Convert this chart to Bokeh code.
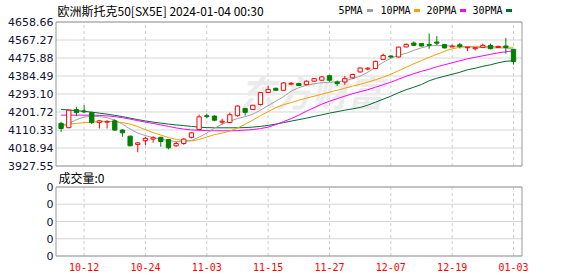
from bokeh.plotting import figure
from bokeh.models import ColumnDataSource, Range1d
from bokeh.embed import file_html
from bokeh.resources import INLINE
from bokeh.core.properties import value

title_text = "欧洲斯托克50[SX5E] 2024-01-04 00:30"
volume_title = "成交量"
watermark = "东方财富"

dates = [
    "2023-10-09", "2023-10-10", "2023-10-11", "2023-10-12", "2023-10-13", "2023-10-16", "2023-10-17",
    "2023-10-18", "2023-10-19", "2023-10-20", "2023-10-23", "2023-10-24", "2023-10-25", "2023-10-26",
    "2023-10-27", "2023-10-30", "2023-10-31", "2023-11-01", "2023-11-02", "2023-11-03", "2023-11-06",
    "2023-11-07", "2023-11-08", "2023-11-09", "2023-11-10", "2023-11-13", "2023-11-14", "2023-11-15",
    "2023-11-16", "2023-11-17", "2023-11-20", "2023-11-21", "2023-11-22", "2023-11-23", "2023-11-24",
    "2023-11-27", "2023-11-28", "2023-11-29", "2023-11-30", "2023-12-01", "2023-12-04", "2023-12-05",
    "2023-12-06", "2023-12-07", "2023-12-08", "2023-12-11", "2023-12-12", "2023-12-13", "2023-12-14",
    "2023-12-15", "2023-12-18", "2023-12-19", "2023-12-20", "2023-12-21", "2023-12-22", "2023-12-27",
    "2023-12-28", "2023-12-29", "2024-01-02", "2024-01-03",
]

open_ = [4144, 4122, 4214, 4207, 4199, 4149, 4150, 4157, 4110, 4079,
         4037, 4056, 4064, 4073, 4062, 4030, 4042, 4073, 4113, 4183,
         4181, 4150, 4148, 4183, 4220, 4214, 4240, 4301, 4322, 4312,
         4343, 4346, 4341, 4358, 4363, 4386, 4354, 4354, 4375, 4405,
         4420, 4422, 4469, 4486, 4481, 4532, 4552, 4549, 4545, 4557,
         4544, 4532, 4543, 4528, 4523, 4530, 4540, 4529, 4537, 4520]
high = [4152, 4213, 4228, 4236, 4203, 4160, 4160, 4164, 4115, 4081,
        4050, 4076, 4079, 4076, 4065, 4050, 4070, 4100, 4188, 4194,
        4185, 4168, 4199, 4236, 4222, 4238, 4303, 4334, 4326, 4354,
        4354, 4350, 4362, 4374, 4382, 4390, 4362, 4385, 4396, 4428,
        4430, 4462, 4498, 4489, 4533, 4550, 4560, 4552, 4600, 4587,
        4546, 4544, 4552, 4532, 4531, 4549, 4549, 4538, 4577, 4520]
low = [4101, 4120, 4181, 4196, 4140, 4118, 4118, 4106, 4076, 4028,
       3997, 4034, 4046, 4025, 4012, 4025, 4035, 4068, 4110, 4169,
       4155, 4139, 4145, 4178, 4183, 4212, 4235, 4299, 4308, 4310,
       4337, 4334, 4337, 4356, 4360, 4355, 4334, 4340, 4372, 4402,
       4413, 4420, 4466, 4475, 4478, 4530, 4537, 4534, 4523, 4540,
       4525, 4531, 4524, 4511, 4514, 4528, 4520, 4527, 4498, 4443]
close = [4118, 4211, 4199, 4202, 4149, 4157, 4153, 4110, 4096, 4030,
         4045, 4068, 4071, 4052, 4020, 4042, 4064, 4096, 4177, 4178,
         4160, 4155, 4188, 4232, 4200, 4236, 4300, 4316, 4312, 4349,
         4347, 4336, 4358, 4371, 4380, 4363, 4346, 4371, 4392, 4425,
         4424, 4459, 4489, 4481, 4531, 4545, 4540, 4537, 4540, 4551,
         4527, 4536, 4535, 4531, 4528, 4540, 4523, 4535, 4529, 4458]
volume = [0] * 60

ma5 = [4125.0, 4142.7, 4162.9, 4175.6, 4180.7, 4178.2, 4173.1, 4160.4, 4140.2, 4114.9,
       4094.6, 4081.9, 4071.8, 4064.2, 4056.6, 4051.6, 4051.6, 4056.6, 4074.4, 4094.6,
       4119.9, 4140.2, 4155.4, 4168.0, 4178.2, 4190.8, 4211.1, 4233.9, 4256.6, 4279.4,
       4307.3, 4325.0, 4337.6, 4345.2, 4350.3, 4352.8, 4355.4, 4360.4, 4370.6, 4383.2,
       4403.5, 4428.8, 4454.1, 4474.3, 4489.5, 4499.7, 4514.9, 4527.5, 4537.6, 4540.2,
       4538.6, 4536.6, 4535.1, 4532.6, 4530.0, 4528.5, 4527.5, 4527.5, 4526.5, 4519.9]
ma10 = [4135.1, 4140.2, 4143.7, 4147.8, 4150.3, 4152.8, 4154.4, 4152.8, 4147.8, 4140.2,
        4127.5, 4112.3, 4097.2, 4084.5, 4071.8, 4062.7, 4056.6, 4055.1, 4061.7, 4074.4,
        4087.0, 4094.6, 4104.8, 4119.9, 4140.2, 4160.4, 4183.2, 4203.5, 4223.7, 4238.9,
        4249.0, 4261.7, 4271.8, 4282.0, 4292.1, 4302.2, 4312.3, 4322.5, 4332.6, 4342.7,
        4352.8, 4365.5, 4378.1, 4393.3, 4411.1, 4428.8, 4446.5, 4462.7, 4479.4, 4494.6,
        4509.8, 4522.9, 4530.0, 4533.6, 4535.1, 4535.1, 4534.1, 4532.6, 4531.6, 4530.0]
ma20 = [4185.8, 4185.8, 4185.8, 4185.8, 4185.8, 4184.3, 4181.8, 4178.2, 4173.1, 4165.5,
        4157.9, 4150.3, 4143.7, 4136.1, 4128.5, 4120.9, 4114.9, 4110.8, 4108.8, 4107.3,
        4106.3, 4106.3, 4106.3, 4107.3, 4109.8, 4112.3, 4117.4, 4125.0, 4137.7, 4152.9,
        4168.0, 4185.8, 4206.0, 4223.7, 4241.4, 4256.6, 4269.3, 4282.0, 4294.6, 4304.7,
        4314.9, 4327.5, 4340.2, 4352.8, 4368.0, 4383.2, 4395.9, 4408.5, 4418.7, 4431.3,
        4441.4, 4451.6, 4461.7, 4471.8, 4479.4, 4487.0, 4494.6, 4502.2, 4507.3, 4512.3]
ma30 = [4214.6, 4212.1, 4208.5, 4205.0, 4200.9, 4195.9, 4190.8, 4184.7, 4178.2, 4170.6,
        4163.0, 4156.4, 4150.3, 4145.3, 4140.2, 4136.1, 4132.6, 4128.5, 4125.0, 4122.5,
        4121.5, 4121.5, 4121.5, 4121.5, 4122.5, 4125.0, 4128.5, 4133.6, 4140.2, 4147.8,
        4155.4, 4163.0, 4170.6, 4179.2, 4187.3, 4195.9, 4203.5, 4211.1, 4217.7, 4224.7,
        4236.4, 4251.6, 4266.8, 4282.0, 4299.7, 4314.9, 4327.5, 4341.2, 4360.4, 4373.1,
        4383.2, 4393.3, 4403.5, 4416.1, 4423.7, 4433.8, 4441.4, 4451.6, 4459.2, 4461.7]

price_ticks = [3927.55, 4018.94, 4110.33, 4201.72, 4293.10, 4384.49, 4475.88, 4567.27, 4658.66]
volume_ticks = [0, 1, 2, 3, 4]
date_tick_labels = ["10-12", "10-24", "11-03", "11-15", "11-27", "12-07", "12-19", "01-03"]
legend_names = ["5PMA", "10PMA", "20PMA", "30PMA"]

RED = "#ff0000"
GREEN = "#008000"
MA_COLORS = ["#a0a0a0", "#f5a000", "#ff00ff", "#006b2e"]
GRID = "#d6d6d6"
VGRID = "#cccccc"
BORDER = "#999999"
LABEL = "#111133"

# ---------------- page layout (pixels) ----------------
W, H = 578, 276
BOX_L, BOX_R = 55.5, 521.5          # left / right edge of both boxes
PRICE_TOP, PRICE_BOT = 21.5, 165.5  # price box
VOL_TOP, VOL_BOT = 186.5, 255.5     # volume box
X_FIRST, X_STEP = 60.6, 7.668       # first candle and candle spacing

# data ranges that put the boxes at those pixels (one figure for the whole page)
x_per_px = 1.0 / X_STEP
x_lo = (0 - X_FIRST) * x_per_px
x_hi = (W - X_FIRST) * x_per_px
p_per_px = (price_ticks[-1] - price_ticks[0]) / (PRICE_BOT - PRICE_TOP)
p_hi = price_ticks[-1] + PRICE_TOP * p_per_px
p_lo = price_ticks[0] - (H - PRICE_BOT) * p_per_px
v_per_px = (volume_ticks[-1] - volume_ticks[0]) / (VOL_BOT - VOL_TOP)
v_hi = volume_ticks[-1] + VOL_TOP * v_per_px
v_lo = volume_ticks[0] - (H - VOL_BOT) * v_per_px


def dx(px):          # page x pixel -> data x
    return (px - X_FIRST) * x_per_px


def dp(py):          # page y pixel -> price units
    return p_hi - py * p_per_px


def dv(py):          # page y pixel -> volume units
    return v_hi - py * v_per_px


p = figure(width=W, height=H, x_range=Range1d(x_lo, x_hi), y_range=Range1d(p_lo, p_hi),
           x_axis_location=None, y_axis_location=None, output_backend="svg",
           toolbar_location=None, min_border=0, outline_line_color=None,
           background_fill_color="white", border_fill_color="white")
p.extra_y_ranges = {"vol": Range1d(v_lo, v_hi)}
p.grid.visible = False

n = len(dates)
xs = list(range(n))
tick_idx = [next(i for i, d in enumerate(dates) if d[5:] == lbl) for lbl in date_tick_labels]
bx0, bx1 = dx(BOX_L), dx(BOX_R)

# ---- grids ----
p.segment(x0=[bx0] * len(price_ticks), y0=price_ticks, x1=[bx1] * len(price_ticks), y1=price_ticks,
          line_color=GRID, line_width=1)
p.segment(x0=tick_idx, y0=[price_ticks[0]] * len(tick_idx), x1=tick_idx,
          y1=[price_ticks[-1]] * len(tick_idx), line_color=VGRID, line_dash="3 3", line_width=1)
p.segment(x0=[bx0] * len(volume_ticks), y0=volume_ticks, x1=[bx1] * len(volume_ticks),
          y1=volume_ticks, line_color=GRID, line_width=1, y_range_name="vol")
p.segment(x0=tick_idx, y0=[volume_ticks[0]] * len(tick_idx), x1=tick_idx,
          y1=[volume_ticks[-1]] * len(tick_idx), line_color=VGRID, line_dash="3 3", line_width=1,
          y_range_name="vol")

# faint watermark
p.text(x=[dx(239)], y=[dp(90)], text=[watermark], text_font=value("Noto Sans CJK SC"),
       text_font_size="36px", text_font_style="bold italic", text_color="#ebebeb",
       text_baseline="middle", text_align="left")

# ---- boxes ----
p.quad(left=[bx0], right=[bx1], bottom=[price_ticks[0]], top=[price_ticks[-1]],
       fill_color=None, line_color=BORDER, line_width=1)
p.quad(left=[bx0], right=[bx1], bottom=[volume_ticks[0]], top=[volume_ticks[-1]],
       fill_color=None, line_color=BORDER, line_width=1, y_range_name="vol")

# ---- moving averages ----
for vals, col in zip([ma30, ma20, ma10, ma5], MA_COLORS[::-1]):
    p.line(xs, vals, line_color=col, line_width=1)

# ---- candles ----
up = [c >= o for o, c in zip(open_, close)]
src = ColumnDataSource(dict(
    x=xs, high=high, low=low,
    top=[max(o, c) for o, c in zip(open_, close)],
    bottom=[min(o, c) for o, c in zip(open_, close)],
    color=[RED if u else GREEN for u in up],
    fill=["#ffffff" if u else GREEN for u in up],
))
p.segment(x0="x", y0="low", x1="x", y1="high", line_color="color", line_width=1, source=src)
p.vbar(x="x", width=0.56, top="top", bottom="bottom", fill_color="fill", line_color="color",
       line_width=1, source=src)

# ---- volume bars (all zero) ----
p.vbar(x=xs, width=0.56, top=volume, bottom=0, fill_color=GREEN, line_color=None,
       y_range_name="vol")

# ---- tick labels ----
p.text(x=[dx(53)] * len(price_ticks), y=price_ticks, text=[f"{t:.2f}" for t in price_ticks],
       text_font=value("DejaVu Sans"), text_font_size="11px", text_color=LABEL,
       text_baseline="middle", text_align="right")
p.text(x=[dx(53)] * len(volume_ticks), y=volume_ticks, text=["0"] * len(volume_ticks),
       text_font=value("DejaVu Sans"), text_font_size="11px", text_color=LABEL,
       text_baseline="middle", text_align="right", y_range_name="vol")
p.text(x=tick_idx, y=[dv(266)] * len(tick_idx), text=date_tick_labels,
       text_font=value("DejaVu Sans Mono"), text_font_size="10px", text_color=RED,
       text_baseline="middle", text_align="center", y_range_name="vol")

# ---- title, legend, volume caption ----
p.text(x=[dx(57)], y=[dp(10)], text=[title_text], text_font=value("Noto Sans CJK SC"),
       text_font_size="12px", text_color="#000000", text_baseline="middle", text_align="left")
leg_text_x = [338, 380, 426, 472]
leg_mark_x = [369.5, 416.5, 462.5, 508.5]
p.text(x=[dx(v) for v in leg_text_x], y=[dp(10)] * 4, text=legend_names,
       text_font=value("DejaVu Sans Mono"), text_font_size="10px", text_color="#000000",
       text_baseline="middle", text_align="left")
p.rect(x=[dx(v) for v in leg_mark_x], y=[dp(10)] * 4, width=6, height=3, width_units="screen",
       height_units="screen", fill_color=MA_COLORS, line_color=None)
p.text(x=[dx(58)], y=[dv(177)], text=[f"{volume_title}:{volume[-1]}"],
       text_font=value("Noto Sans CJK SC"), text_font_size="12px", text_color="#000000",
       text_baseline="middle", text_align="left", y_range_name="vol")

open("out.html", "w").write(file_html(p, INLINE))
